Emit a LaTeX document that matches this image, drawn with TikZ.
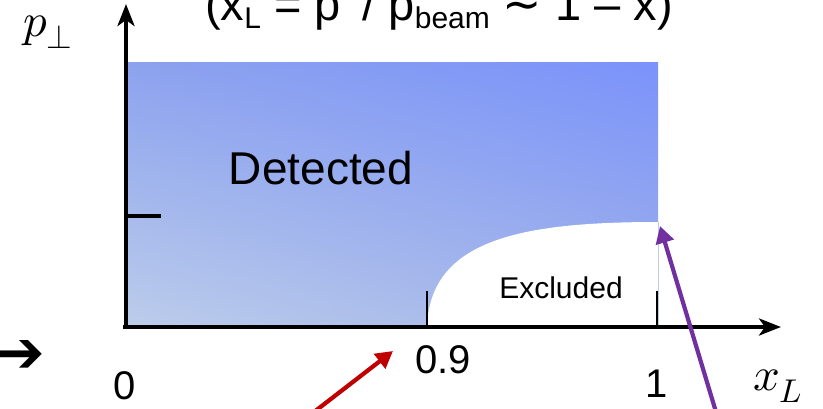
\documentclass[tikz,border=0pt]{standalone}
\usepackage{fontspec}
\usepackage{unicode-math}
\setmainfont{Liberation Sans}
\newfontfamily\dejavu{DejaVu Sans}
\usetikzlibrary{arrows.meta,shadings}
\definecolor{redarr}{HTML}{C00000}
\definecolor{purparr}{HTML}{7030A0}
\definecolor{cTL}{HTML}{8CA2EE}
\definecolor{cBL}{HTML}{BCCDEB}
\definecolor{cBR}{HTML}{A0B2E8}
\definecolor{cTR}{HTML}{7B93FB}
\tikzset{
  axis/.style={line width=4pt, -{Stealth[length=22pt,width=17pt,inset=6pt]}},
  tickmark/.style={line width=2.8pt},
  pointer/.style={line width=4.2pt, -{Triangle[length=17pt,width=18pt]}},
  lbl/.style={inner sep=0pt, font=\fontsize{40}{40}\selectfont},
  mathlbl/.style={inner sep=0pt, font=\fontsize{47}{47}\selectfont},
}
\newcommand{\subsz}[1]{\raisebox{-8pt}{\fontsize{30}{30}\selectfont #1}}
\begin{document}
\begin{tikzpicture}[x=1pt,y=-1pt]
\useasboundingbox (0,0) rectangle (823,408);
\clip (0,0) rectangle (823,408);
% shaded detected region
\shade[upper left=cTL, upper right=cTR, lower left=cBL, lower right=cBR]
  (126,62) rectangle (658,327);
% excluded region
\fill[white] (427,327) .. controls (430,240) and (520,222) .. (658,222) -- (658,327) -- cycle;
\draw[line width=0.8pt, cBL] (658,222) -- (658,327);
% axes
\coordinate (yb) at (126,329);
\coordinate (yt) at (126,4);
\coordinate (xb) at (123,327);
\coordinate (xt) at (781,327);
\draw[axis] (yb) -- (yt);
\draw[axis] (xb) -- (xt);
% ticks
\coordinate (t1a) at (126,216); \coordinate (t1b) at (161,216);
\draw[tickmark, line width=3.2pt] (t1a) -- (t1b);
\coordinate (t2a) at (427,327); \coordinate (t2b) at (427,291);
\draw[tickmark] (t2a) -- (t2b);
\coordinate (t3a) at (657,327); \coordinate (t3b) at (657,291);
\draw[tickmark] (t3a) -- (t3b);
% texts
\node[anchor=base west, inner sep=0pt, font=\fontsize{47}{47}\selectfont] (title) at (205,20)
  {(x\subsz{L} = p′ / p\subsz{beam} {\dejavu ∼} 1 – x)};
\node[inner sep=0pt, font=\fontsize{46}{46}\selectfont] (det) at (321,168) {Detected};
\node[inner sep=0pt, font=\fontsize{30}{30}\selectfont] (exc) at (561,288) {Excluded};
\node[lbl] (n0) at (125,386) {0};
\node[lbl] (n09) at (443,360) {0.9};
\node[lbl] (n1) at (657,384) {1};
\node[mathlbl] (pp) at (48,32) {$p_\perp$};
\node[mathlbl] (xl) at (778,386) {$x_L$};
\node[inner sep=0pt, font=\dejavu\fontsize{58}{58}\selectfont] (bullet) at (21,356) {➔};
% pointer arrows
\coordinate (rs) at (314,412);
\coordinate (re) at (393,351);
\draw[pointer, redarr] (rs) -- (re);
\coordinate (ps) at (716,412);
\coordinate (pe) at (660,226);
\draw[pointer, purparr] (ps) -- (pe);
\end{tikzpicture}
\end{document}
